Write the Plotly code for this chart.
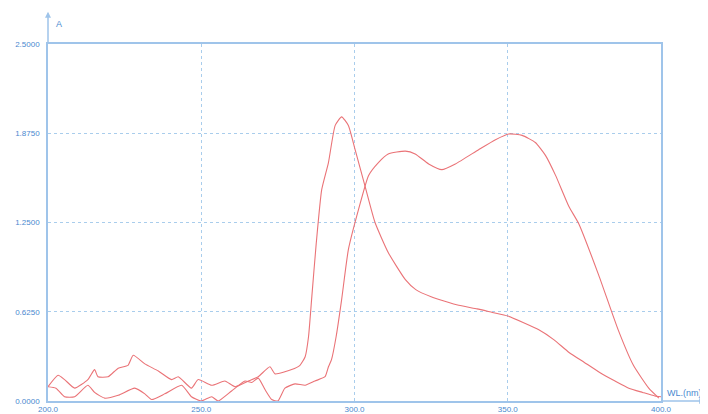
import plotly.graph_objects as go

# Curve 1: sharp peak near 296 nm
wl_1 = [200, 203.3, 205.4, 208.7, 213, 215.2, 216.3, 219.6, 222.9, 226.1, 227.8, 231.6,
        236, 240.3, 242.5, 246.8, 249, 253.4, 257.7, 261, 265.4, 268.6, 272.4, 274.1,
        279.5, 282.2, 283.9, 285, 286, 287.5, 289.3, 291.5, 293.7, 295.8, 298, 300.2,
        303.5, 306.7, 311, 316.6, 320, 325, 334, 340, 345, 350, 355, 360, 365, 370,
        375, 380, 385, 389.5, 394, 398, 400]
abs_1 = [0.10, 0.18, 0.15, 0.09, 0.15, 0.22, 0.17, 0.17, 0.23, 0.25, 0.32, 0.26,
         0.21, 0.15, 0.17, 0.09, 0.15, 0.11, 0.14, 0.10, 0.14, 0.17, 0.24, 0.19,
         0.22, 0.25, 0.31, 0.45, 0.71, 1.10, 1.48, 1.67, 1.93, 1.99, 1.93, 1.76,
         1.50, 1.25, 1.04, 0.85, 0.78, 0.73, 0.67, 0.645, 0.62, 0.595, 0.55, 0.50, 0.43, 0.34,
         0.27, 0.20, 0.14, 0.09, 0.06, 0.035, 0.03]

# Curve 2: broad band with maxima near 317 and 352 nm
wl_2 = [200, 202.6, 205.4, 208.7, 213, 215.2, 218.5, 222.9, 228.3, 231.6, 233.8, 238.1,
        243.6, 246.8, 250, 253.4, 255.5, 259.9, 264.3, 266.5, 268.6, 270.8, 273, 275,
        277.3, 280.6, 283.9, 287.1, 290.4, 291.5, 292.5, 294, 295.8, 298, 301.3, 304.6,
        307.8, 311, 316.6, 319.8, 324.2, 328.5, 332.9, 340.5, 346, 350.3, 354.7, 359,
        362.3, 365.6, 370, 373.2, 379.7, 386, 391, 396, 399.3]
abs_2 = [0.10, 0.09, 0.03, 0.03, 0.11, 0.06, 0.02, 0.04, 0.09, 0.05, 0.01, 0.05,
         0.11, 0.03, 0.0, 0.03, 0.0, 0.07, 0.14, 0.13, 0.16, 0.08, 0.01, 0.0,
         0.09, 0.12, 0.11, 0.14, 0.17, 0.24, 0.29, 0.45, 0.71, 1.06, 1.34, 1.58,
         1.67, 1.73, 1.75, 1.73, 1.66, 1.62, 1.66, 1.76, 1.83, 1.87, 1.86, 1.81,
         1.72, 1.58, 1.36, 1.24, 0.88, 0.50, 0.25, 0.09, 0.02]

x_ticks = [200, 250, 300, 350, 400]
x_tick_labels = ["200.0", "250.0", "300.0", "350.0", "400.0"]
y_ticks = [0, 0.625, 1.25, 1.875, 2.5]
y_tick_labels = ["0.0000", "0.6250", "1.2500", "1.8750", "2.5000"]

line_col = "#ea7377"
axis_col = "#9fc4ea"
grid_col = "#a9cdec"
text_col = "#4a89cf"

fig = go.Figure()
for wl, ab in [(wl_1, abs_1), (wl_2, abs_2)]:
    fig.add_trace(go.Scatter(x=wl, y=ab, mode="lines",
                             line=dict(color=line_col, width=1.1, shape="spline", smoothing=0.5),
                             hoverinfo="skip", showlegend=False))

fig.update_layout(
    width=708, height=414,
    margin=dict(l=40, r=55, t=36, b=21, autoexpand=False),
    paper_bgcolor="white", plot_bgcolor="white",
    font=dict(family="Liberation Sans, Arial, sans-serif", size=8, color=text_col),
)
common = dict(showline=True, linecolor=axis_col, linewidth=1.5, mirror=True,
              showgrid=True, gridcolor=grid_col, griddash="dot", gridwidth=1,
              zeroline=False, ticks="", ticklen=0, automargin=False,
              tickfont=dict(size=8, color=text_col))
fig.update_xaxes(range=[200, 400], tickvals=x_ticks, ticktext=x_tick_labels,
                 ticklabelstandoff=0, **common)
fig.update_yaxes(range=[0, 2.5], tickvals=y_ticks, ticktext=y_tick_labels,
                 ticklabelstandoff=5, **common)

# axis arrows
fig.add_annotation(x=0, y=1.09, xref="paper", yref="paper", ax=0, ay=33,
                   showarrow=True, arrowhead=2, arrowsize=0.8, arrowwidth=1.5,
                   arrowcolor=axis_col, text="")
fig.add_annotation(x=1.072, y=0, xref="paper", yref="paper", ax=-44, ay=0,
                   showarrow=True, arrowhead=2, arrowsize=0.8, arrowwidth=1.5,
                   arrowcolor=axis_col, text="")
fig.add_annotation(x=0.01, y=1.055, xref="paper", yref="paper", text="A",
                   showarrow=False, xanchor="left", yanchor="middle",
                   font=dict(size=9, color=text_col))
fig.add_annotation(x=1.006, y=0.022, xref="paper", yref="paper", text="WL.(nm)",
                   showarrow=False, xanchor="left", yanchor="middle",
                   font=dict(size=9, color=text_col))

fig.write_html("out.html")
